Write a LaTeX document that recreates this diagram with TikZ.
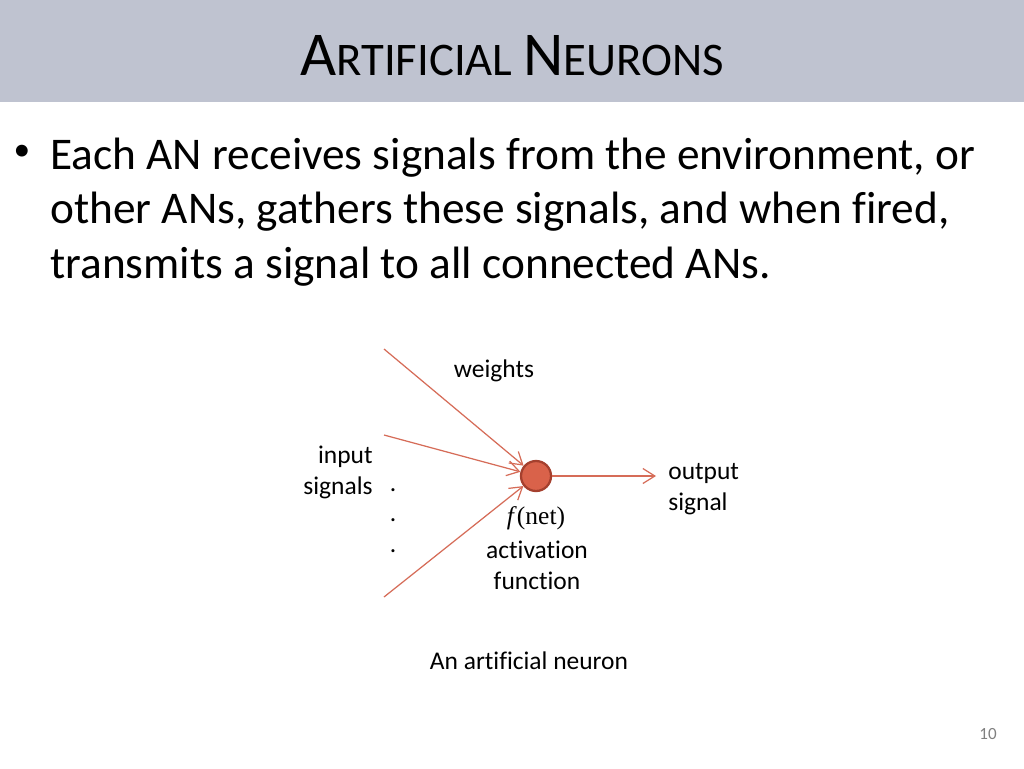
\documentclass[tikz,border=0pt]{standalone}
\usepackage{fontspec}
\setmainfont{Carlito}[Ligatures=NoCommon]
\newfontfamily\timesrm{Liberation Serif}
\usetikzlibrary{arrows.meta,positioning}
\definecolor{barblue}{RGB}{191,195,208}
\definecolor{neuronred}{RGB}{217,98,74}
\definecolor{neuronrim}{RGB}{165,64,46}
\definecolor{wirered}{RGB}{214,108,88}
\newcommand{\TitleBig}{\fontsize{35.5}{40}\selectfont}
\newcommand{\TitleSmall}{\fontsize{26.6}{30}\selectfont}

\begin{document}
\begin{tikzpicture}[
  x=0.02cm, y=-0.02cm,
  body/.style   = {font=\fontsize{25.8}{31}\selectfont, inner sep=0pt, anchor=base west},
  lbl/.style    = {font=\fontsize{14.5}{17.6}\selectfont, inner sep=0pt, align=center},
  neuron/.style = {circle, draw=neuronrim, fill=neuronred, line width=1.3pt,
                   minimum size=0.6cm, inner sep=0pt},
  wire/.style   = {-{Straight Barb[length=2.4mm,width=3mm]}, draw=wirered, line width=0.7pt}
]
\useasboundingbox (0,0) rectangle (1024,768);
\fill[white] (0,0) rectangle (1024,768);

%%%%%%%%%%%%%%%%%%%%%%% TITLE BAR %%%%%%%%%%%%%%%%%%%%%%%%%%%%%%%%%
\fill[barblue] (0,0) rectangle (1024,102);
\node[inner sep=0pt, anchor=base] (title) at (512,75)
      {\TitleBig A\TitleSmall RTIFICIAL \TitleBig N\TitleSmall EURONS};

%%%%%%%%%%%%%%%%%%%%%%% BULLET TEXT %%%%%%%%%%%%%%%%%%%%%%%%%%%%%%%
\node[inner sep=0pt, font=\fontsize{19}{20}\selectfont] (bullet) at (22,153) {\textbullet};
\node[body] (line1) at (50,169) {Each AN receives signals from the environment, or};
\node[body] (line2) at (50,223.5) {other ANs, gathers these signals, and when fired,};
\node[body] (line3) at (50,278) {transmits a signal to all connected ANs.};

%%%%%%%%%%%%%%%%%%%%%%% NEURON %%%%%%%%%%%%%%%%%%%%%%%%%%%%%%%%%%%%
\node[neuron] (neuron) at (536,476) {};

\coordinate (in1) at (384,349);
\coordinate (in2) at (384,435);
\coordinate (in3) at (384,597);
\coordinate (out) at (656,476);

\draw[wire] (in1) -- (neuron);
\draw[wire] (in2) -- (neuron);
\draw[wire] (in3) -- (neuron);
\draw[wire] (neuron) -- (out);

\node[lbl] (weights) at (494,371) {weights};
\node[lbl, align=right, anchor=east] (inputs) at (373,472) {input\\signals};
\foreach \y [count=\i] in {491,521,552}
  \node[lbl, anchor=base] (dot\i) at (393,\y) {.};
\node[lbl, anchor=west, align=left] (output) at (668,489) {output\\signal};
\node[lbl, font=\timesrm\fontsize{14.5}{17.6}\selectfont] (fnet) at (536,518)
      {\textit{f}(net)};
\node[lbl] (actfn) at (537,565) {activation\\function};

\node[lbl] (caption) at (529,661) {An artificial neuron};
\node[lbl, font=\fontsize{9.7}{11}\selectfont, text=black!50] (pagenum) at (988,734) {10};
\end{tikzpicture}
\end{document}
